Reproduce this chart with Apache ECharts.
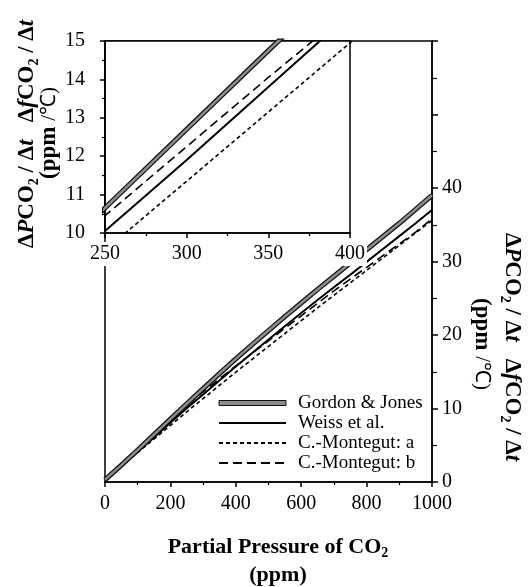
<!DOCTYPE html>
<html><head><meta charset="utf-8">
<script src="https://cdn.jsdelivr.net/npm/echarts@6/dist/echarts.min.js"></script>
<style>html,body{margin:0;padding:0;background:#fff}#c{width:529px;height:587px}</style>
</head><body><div id="c"></div>
<script>
// ---- data ----
const pco2 = [0,50,100,150,200,250,300,350,400,450,500,550,600,650,700,750,800,850,900,950,1000];
const gordonJones = [0.3,2.3,4.35,6.45,8.55,10.65,12.7,14.75,16.75,18.7,20.6,22.5,24.35,26.2,28.0,29.8,31.6,33.4,35.2,37.1,39.0];
const weiss = [0.2,2.15,4.1,6.05,8.05,10.05,11.9,13.8,15.7,17.55,19.4,21.2,23.0,24.75,26.5,28.2,29.95,31.7,33.45,35.2,37.0];
const montegutA = [0.3,2.15,4.0,5.85,7.7,9.55,11.35,13.15,14.95,16.7,18.45,20.2,21.95,23.7,25.4,27.1,28.8,30.5,32.2,33.9,35.6];
const montegutB = [0.4,2.45,4.5,6.5,8.5,10.45,12.25,14.05,15.8,17.5,19.2,20.9,22.6,24.3,26.0,27.6,29.2,30.8,32.4,34.0,35.8];
const seriesNames = ['Gordon & Jones','Weiss et al.','C.-Montegut: a','C.-Montegut: b'];
const mainYLabels = [0,10,20,30,40];
const insetYLabels = [10,11,12,13,14,15];

const FONT = '"Liberation Serif","Times New Roman",serif';
const pair = arr => pco2.map((x,i)=>[x,arr[i]]);

function seriesFor(xi, yi){
  return [
    {name:seriesNames[0], type:'line', xAxisIndex:xi, yAxisIndex:yi, data:pair(gordonJones), symbol:'none', z:3,
     lineStyle:{color:'#111', width:5, cap:'butt'}},
    {name:'GJ core', type:'line', xAxisIndex:xi, yAxisIndex:yi, data:pair(gordonJones), symbol:'none', z:4,
     lineStyle:{color:'#8c8c8c', width:2.6, cap:'butt'}},
    {name:seriesNames[1], type:'line', xAxisIndex:xi, yAxisIndex:yi, data:pair(weiss), symbol:'none', z:3,
     lineStyle:{color:'#000', width:2}},
    {name:seriesNames[2], type:'line', xAxisIndex:xi, yAxisIndex:yi, data:pair(montegutA), symbol:'none', z:3,
     lineStyle:{color:'#000', width:1.6, type:[4,3]}},
    {name:seriesNames[3], type:'line', xAxisIndex:xi, yAxisIndex:yi, data:pair(montegutB), symbol:'none', z:3,
     lineStyle:{color:'#000', width:1.6, type:[9,5]}}
  ];
}

const axisLine = {show:true, onZero:false, lineStyle:{color:'#000', width:1.5}};
const lbl = (extra) => Object.assign({color:'#000', fontFamily:FONT, fontSize:20, formatter:v => String(v)}, extra||{});

const rich = {
  n:{fontFamily:FONT, fontWeight:'bold', fontSize:23, lineHeight:28},
  i:{fontFamily:FONT, fontWeight:'bold', fontStyle:'italic', fontSize:23, lineHeight:28},
  s:{fontFamily:FONT, fontWeight:'bold', fontSize:14, verticalAlign:'bottom', lineHeight:28},
  r:{fontFamily:FONT, fontSize:21, lineHeight:28}
};
const richX = {
  n:{fontFamily:FONT, fontWeight:'bold', fontSize:22, lineHeight:26},
  s:{fontFamily:FONT, fontWeight:'bold', fontSize:14, verticalAlign:'bottom', lineHeight:26}
};
const yTitle = '{n|Δ}{i|P}{n|CO}{s|2}{n| / Δ}{i|t}{n|   Δ}{i|f}{n|CO}{s|2}{n| / Δ}{i|t}';
const yUnit = '{n|(ppm }{r|/℃)}';

const option = {
  animation:false,
  backgroundColor:'#fff',
  grid:[
    {left:105, top:41, width:327, height:441, show:true, borderColor:'#000', borderWidth:1.5, backgroundColor:'transparent', outerBoundsMode:'none'},
    {left:105, top:41, width:245, height:192, show:true, borderColor:'#000', borderWidth:1.5, backgroundColor:'#fff', z:5, outerBoundsMode:'none'}
  ],
  xAxis:[
    {type:'value', gridIndex:0, min:0, max:1000, interval:200, axisLine,
     axisTick:{show:true, length:5, lineStyle:{color:'#000', width:1.5}},
     minorTick:{show:true, splitNumber:2, length:3, lineStyle:{color:'#000', width:1.2}},
     splitLine:{show:false}, axisLabel:lbl({margin:12})},
    {type:'value', gridIndex:1, min:250, max:400, interval:50, axisLine, z:10,
     axisTick:{show:true, length:5, lineStyle:{color:'#000', width:1.5}},
     minorTick:{show:true, splitNumber:2, length:3, lineStyle:{color:'#000', width:1.2}},
     splitLine:{show:false}, axisLabel:lbl({margin:9, backgroundColor:'#fff', padding:[2,2,2,2]})}
  ],
  yAxis:[
    {type:'value', gridIndex:0, position:'right', min:0, max:60, interval:10, axisLine,
     axisTick:{show:true, length:6, lineStyle:{color:'#000', width:1.5}},
     minorTick:{show:true, splitNumber:2, length:5, lineStyle:{color:'#000', width:1.2}},
     splitLine:{show:false},
     axisLabel:lbl({margin:10, formatter:v => mainYLabels.indexOf(v) >= 0 ? String(v) : ''})},
    {type:'value', gridIndex:1, position:'left', min:10, max:15, interval:1, axisLine, z:10,
     axisTick:{show:true, length:5, lineStyle:{color:'#000', width:1.5}},
     minorTick:{show:true, splitNumber:2, length:3, lineStyle:{color:'#000', width:1.2}},
     splitLine:{show:false},
     axisLabel:lbl({margin:20, formatter:v => insetYLabels.indexOf(v) >= 0 ? String(v) : ''})}
  ],
  legend:{
    data:[
      {name:seriesNames[0], icon:'rect', itemStyle:{color:'#8c8c8c', borderColor:'#111', borderWidth:1}},
      {name:seriesNames[1], itemStyle:{opacity:0}},
      {name:seriesNames[2], itemStyle:{opacity:0}},
      {name:seriesNames[3], itemStyle:{opacity:0}}
    ],
    orient:'vertical', left:218, top:393, itemWidth:67, itemHeight:5, itemGap:0, padding:0,
    selectedMode:false,
    textStyle:{fontFamily:FONT, fontSize:19, color:'#000', lineHeight:20, padding:[0,0,0,7]}
  },
  graphic:[
    {type:'text', x:27, y:134, rotation:Math.PI/2, style:{text:yTitle, rich, align:'center', verticalAlign:'middle', fill:'#000'}},
    {type:'text', x:49, y:133, rotation:Math.PI/2, style:{text:yUnit, rich, align:'center', verticalAlign:'middle', fill:'#000'}},
    {type:'text', x:512, y:347, rotation:-Math.PI/2, style:{text:yTitle, rich, align:'center', verticalAlign:'middle', fill:'#000'}},
    {type:'text', x:482, y:344, rotation:-Math.PI/2, style:{text:yUnit, rich, align:'center', verticalAlign:'middle', fill:'#000'}},
    {type:'text', x:278, y:547, style:{text:'{n|Partial Pressure of CO}{s|2}', rich:richX, align:'center', verticalAlign:'middle', fill:'#000'}},
    {type:'text', x:278, y:575, style:{text:'{n|(ppm)}', rich:richX, align:'center', verticalAlign:'middle', fill:'#000'}}
  ],
  series: seriesFor(0,0).concat(seriesFor(1,1).map(s => Object.assign(s, {z:s.z+6})))
};
const chart = echarts.init(document.getElementById('c'), null, {renderer:'canvas'});
chart.setOption(option);
</script>
</body></html>
